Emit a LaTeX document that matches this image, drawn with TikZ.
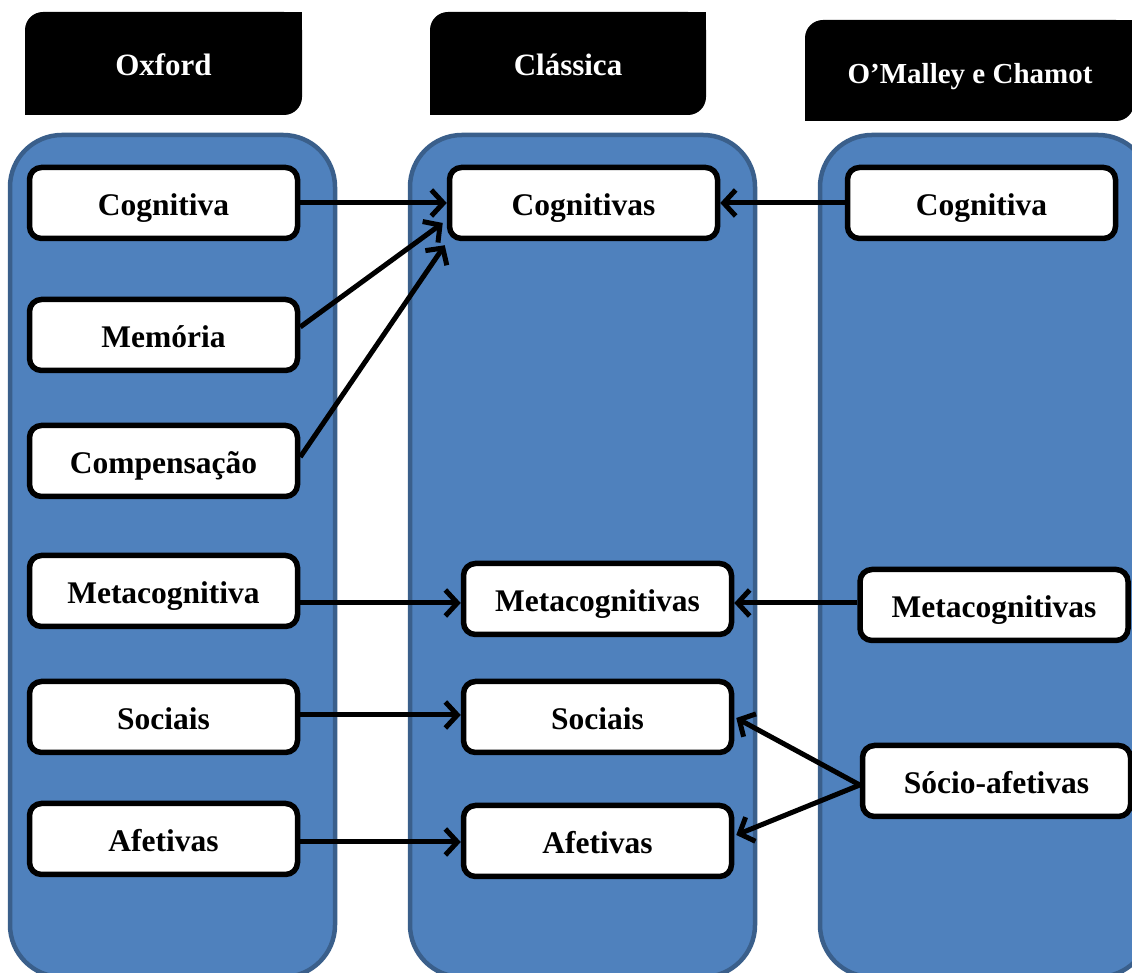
\documentclass[tikz,border=0pt]{standalone}
\usepackage{fontspec}
\setmainfont{Liberation Serif}
\usetikzlibrary{arrows.meta}
\definecolor{colfill}{HTML}{4F81BD}
\definecolor{colline}{HTML}{3A5F8B}
\tikzset{
  column/.style={fill=colfill, draw=colline, line width=4.5pt, rounded corners=52pt},
  hdrtext/.style={text=white, font=\fontsize{31}{36}\selectfont\bfseries, inner sep=0pt,
    text height=27pt, text depth=3pt},
  item/.style={draw=black, fill=white, line width=5.5pt, rounded corners=12pt,
    minimum width=268pt, minimum height=71pt, inner sep=0pt,
    text height=28pt, text depth=3pt,
    font=\fontsize{31.5}{36}\selectfont\bfseries},
  link/.style={line width=5pt, -{Straight Barb[length=12pt,width=26pt,line width=5pt]}}
}
\begin{document}
\begin{tikzpicture}[x=1pt,y=1pt]
\useasboundingbox (0,0) rectangle (1132,973);

% column panels
\path[column] (10,-4) rectangle (335,838);
\path[column] (410,-4) rectangle (755,838);
\path[column] (820,-4) rectangle (1150,838);

% header tabs: rounded top-left and bottom-right corners
\fill[black, rounded corners=18pt] (25,858) rectangle (302,961);
\fill[black] (270,930) rectangle (302,961);
\fill[black] (25,858) rectangle (57,890);
\node[hdrtext] (hOx) at (163.5,909.5) {Oxford};

\fill[black, rounded corners=18pt] (430,858) rectangle (706,961);
\fill[black] (674,930) rectangle (706,961);
\fill[black] (430,858) rectangle (462,890);
\node[hdrtext] (hCl) at (568,909.5) {Clássica};

\fill[black, rounded corners=18pt] (805,852) rectangle (1134,953);
\fill[black] (1100,921) rectangle (1134,953);
\fill[black] (805,852) rectangle (837,884);
\node[hdrtext, font=\fontsize{29}{34}\selectfont\bfseries] (hOM) at (970,901) {O’Malley e Chamot};

% Oxford
\node[item] (oCog) at (163.5,770) {Cognitiva};
\node[item] (oMem) at (163.5,638) {Memória};
\node[item] (oCom) at (163.5,512) {Compensação};
\node[item] (oMet) at (163.5,382) {Metacognitiva};
\node[item] (oSoc) at (163.5,256) {Sociais};
\node[item] (oAfe) at (163.5,134) {Afetivas};

% Classica
\node[item] (cCog) at (583.5,770) {Cognitivas};
\node[item] (cMet) at (597.5,374) {Metacognitivas};
\node[item] (cSoc) at (597.5,256) {Sociais};
\node[item] (cAfe) at (597.5,132) {Afetivas};

% O'Malley e Chamot
\node[item] (mCog) at (981.5,770) {Cognitiva};
\node[item] (mMet) at (994,368) {Metacognitivas};
\node[item] (mSoc) at (996.5,192) {Sócio-afetivas};

% connectors
\draw[link] (oCog.east) -- (cCog.west);
\draw[link] ([yshift=8pt]oMem.east) -- ([xshift=-4pt,yshift=-20pt]cCog.west);
\draw[link] ([yshift=4pt]oCom.east) -- ([xshift=-2pt,yshift=-4pt]cCog.south west);
\draw[link] ([yshift=-12pt]oMet.east) -- ([yshift=-4pt]cMet.west);
\draw[link] ([yshift=2pt]oSoc.east) -- ([yshift=2pt]cSoc.west);
\draw[link] ([yshift=-3pt]oAfe.east) -- ([yshift=-1pt]cAfe.west);
\draw[link] (mCog.west) -- (cCog.east);
\draw[link] ([yshift=2pt]mMet.west) -- ([yshift=-4pt]cMet.east);
\draw[link] ([yshift=-4pt]mSoc.west) -- ([xshift=2pt,yshift=-1pt]cSoc.east);
\draw[link] ([yshift=-4pt]mSoc.west) -- ([xshift=2pt,yshift=6pt]cAfe.east);
\end{tikzpicture}
\end{document}
